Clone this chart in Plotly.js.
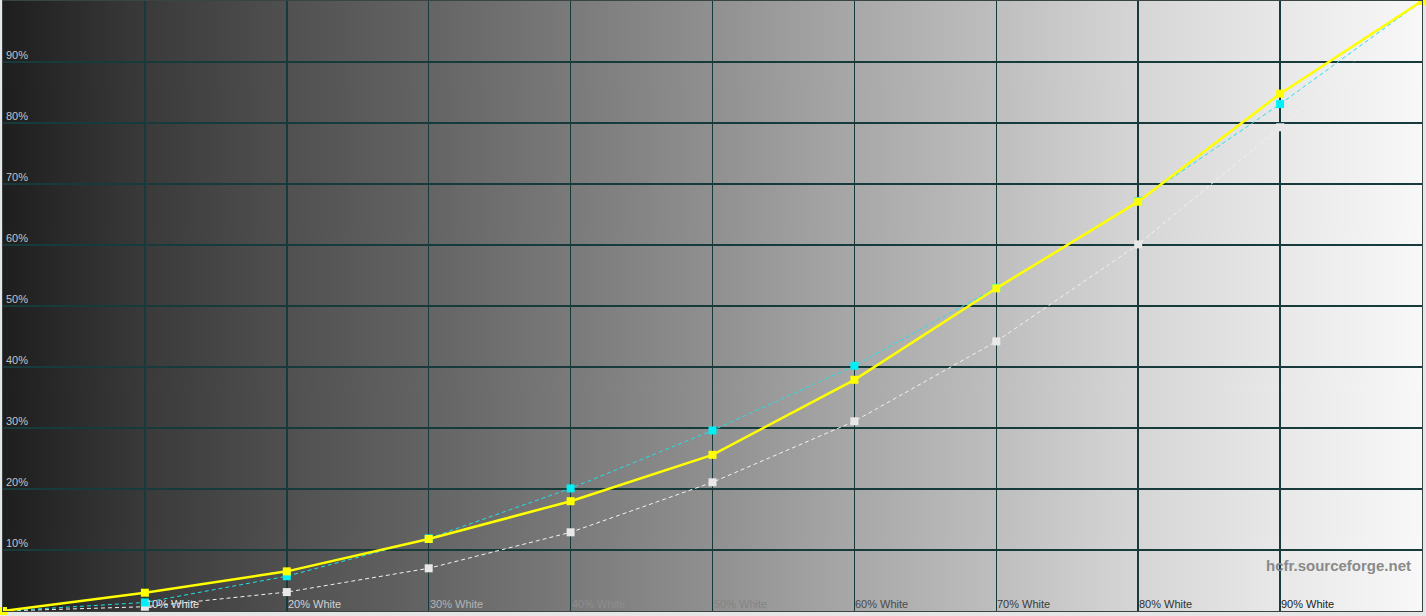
<!DOCTYPE html>
<html>
<head>
<meta charset="utf-8">
<script src="https://cdn.plot.ly/plotly-3.0.1.min.js"></script>
<style>
    html, body { margin: 0; padding: 0; background: #e6e6e6; }
    #chart { width: 1426px; height: 616px; }
</style>
</head>
<body>
<div id="chart"></div>
<script>
// stimulus levels (% white)
let levels = [0, 10, 20, 30, 40, 50, 60, 70, 80, 90, 100];

// luminance (% of white)
let reference = [0, 0.7, 3.1, 7.0, 12.9, 21.1, 31.1, 44.2, 60.1, 79.3, 100];
let measuredCyan = [0, 1.4, 5.7, 11.9, 20.1, 29.6, 40.2, 53.0, 67.2, 83.1, 100];
let measuredYellow = [0, 3.0, 6.5, 11.8, 18.0, 25.6, 37.9, 52.9, 67.1, 84.8, 100];

// background grey level under each gridline (0-255)
let bgGrey = [30, 58, 80, 100, 122, 144, 168, 190, 214, 232, 248];

let xLabels = ["10% White", "20% White", "30% White", "40% White", "50% White",
               "60% White", "70% White", "80% White", "90% White"];
let xLabelColors = ["#e6e6e6", "#d2d2d2", "#b4b4b4", "#8e8e8e", "#858585",
                    "#4a4a4a", "#3a3a3a", "#303030", "#222222"];
let yLabels = ["10%", "20%", "30%", "40%", "50%", "60%", "70%", "80%", "90%"];

// grey ramp painted on a canvas, used as a layout image under the grid
function makeBackground() {

    let canvas = document.createElement("canvas");
    canvas.width = 1419;
    canvas.height = 4;
    let ctx = canvas.getContext("2d");
    let grad = ctx.createLinearGradient(0, 0, canvas.width, 0);

    for(let i = 0; i < levels.length; i++) {

        let g = bgGrey[i];
        grad.addColorStop(levels[i] / 100, `rgb(${g},${g},${g})`);

    }

    ctx.fillStyle = grad;
    ctx.fillRect(0, 0, canvas.width, canvas.height);
    return canvas.toDataURL("image/png");

}

function chartInit() {

    let refTrace = {
        x: levels,
        y: reference,
        type: 'scatter',
        mode: 'lines+markers',
        line: { color: '#f2f2f2', width: 1, dash: '4px,3px' },
        marker: { symbol: 'square', size: 8, color: '#e8e8e8' },
        cliponaxis: false,
        hoverinfo: 'skip'
    };

    let cyanTrace = {
        x: levels,
        y: measuredCyan,
        type: 'scatter',
        mode: 'lines+markers',
        line: { color: '#22e0e8', width: 1, dash: '4px,3px' },
        marker: { symbol: 'square', size: 8, color: '#00f0f8' },
        cliponaxis: false,
        hoverinfo: 'skip'
    };

    let yellowTrace = {
        x: levels,
        y: measuredYellow,
        type: 'scatter',
        mode: 'lines+markers',
        line: { color: '#ffff00', width: 2.5 },
        marker: { symbol: 'square', size: 8, color: '#ffff00' },
        cliponaxis: false,
        hoverinfo: 'skip'
    };

    let annotations = [];

    for(let i = 0; i < xLabels.length; i++) {

        annotations.push({
            x: levels[i + 1], y: 0,
            xref: 'x', yref: 'y',
            text: xLabels[i],
            showarrow: false,
            xanchor: 'left', yanchor: 'bottom',
            xshift: -1, yshift: -1,
            font: { family: 'Liberation Sans, Arial, sans-serif', size: 11, color: xLabelColors[i] }
        });

    }

    for(let i = 0; i < yLabels.length; i++) {

        annotations.push({
            x: 0, y: levels[i + 1],
            xref: 'x', yref: 'y',
            text: yLabels[i],
            showarrow: false,
            xanchor: 'left', yanchor: 'bottom',
            xshift: 1, yshift: -1,
            font: { family: 'Liberation Sans, Arial, sans-serif', size: 11, color: '#c4c4c4' }
        });

    }

    annotations.push({
        x: 1, y: 0.075,
        xref: 'paper', yref: 'paper',
        text: '<b>hcfr.sourceforge.net</b>',
        showarrow: false,
        xanchor: 'right', yanchor: 'middle',
        xshift: -9,
        font: { family: 'Liberation Sans, Arial, sans-serif', size: 15, color: '#8a8a8a' }
    });

    let axisStyle = {
        range: [0, 100],
        dtick: 10,
        showgrid: true,
        gridcolor: '#173a3a',
        gridwidth: 1.5,
        zeroline: false,
        showticklabels: false,
        showline: true,
        linecolor: '#3a4444',
        linewidth: 1,
        mirror: true,
        fixedrange: true
    };

    let layout = {
        width: 1426,
        height: 616,
        margin: { l: 3, r: 4, t: 1, b: 5, pad: 0 },
        paper_bgcolor: '#e6e6e6',
        plot_bgcolor: '#808080',
        showlegend: false,
        xaxis: Object.assign({}, axisStyle),
        yaxis: Object.assign({}, axisStyle),
        images: [{
            source: makeBackground(),
            xref: 'x', yref: 'y',
            x: 0, y: 100,
            sizex: 100, sizey: 100,
            sizing: 'stretch',
            xanchor: 'left', yanchor: 'top',
            layer: 'below'
        }],
        annotations: annotations
    };

    Plotly.newPlot('chart', [refTrace, cyanTrace, yellowTrace], layout, { displayModeBar: false, staticPlot: true });

}

chartInit();
</script>
</body>
</html>
